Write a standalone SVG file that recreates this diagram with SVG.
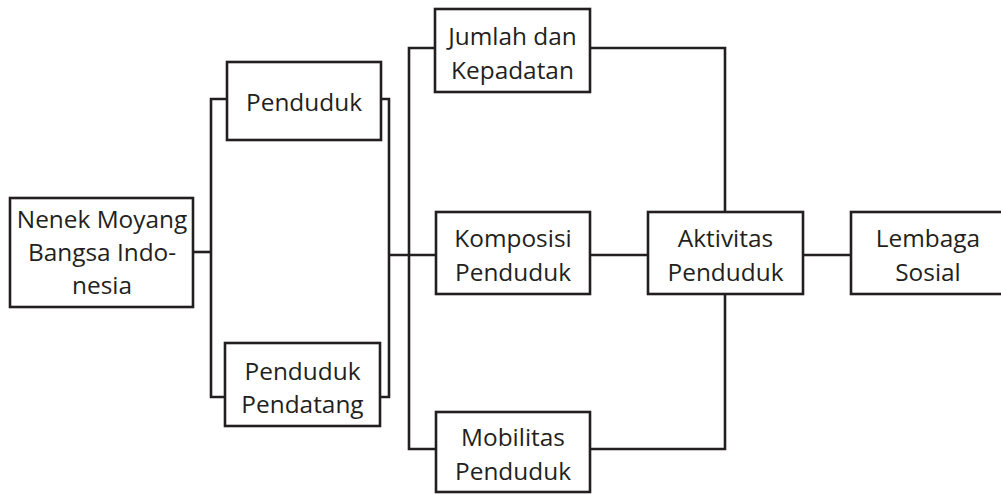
<svg xmlns="http://www.w3.org/2000/svg" width="1001" height="494" viewBox="0 0 1001 494">
<style>
.box{fill:#fff;stroke:#231f20;stroke-width:2.6}
.ln{fill:none;stroke:#231f20;stroke-width:2.6}
text{font-family:"Open Sans","Liberation Sans",sans-serif;font-size:24.4px;fill:#231f20;text-anchor:middle}
</style>
<rect width="1001" height="494" fill="#fff"/>
<g id="connectors">
<path class="ln" d="M193,252 H211"/>
<path class="ln" d="M227,99 H211 V397 H225"/>
<path class="ln" d="M381,99 H389 V397 H380"/>
<path class="ln" d="M389,255 H436"/>
<path class="ln" d="M435,48 H409 V449 H436"/>
<path class="ln" d="M590,48 H725 V212"/>
<path class="ln" d="M725,294 V449 H590"/>
<path class="ln" d="M590,255 H648"/>
<path class="ln" d="M803,255 H851"/>
</g>
<g id="nenek">
<rect class="box" x="10" y="198" width="183" height="109"/>
<text x="102" y="228">Nenek Moyang</text>
<text x="102" y="261">Bangsa Indo-</text>
<text x="102" y="294">nesia</text>
</g>
<g id="penduduk">
<rect class="box" x="227" y="62" width="154" height="78"/>
<text x="304" y="111">Penduduk</text>
</g>
<g id="pendatang">
<rect class="box" x="225" y="343" width="155" height="83"/>
<text x="302.5" y="380">Penduduk</text>
<text x="302.5" y="413">Pendatang</text>
</g>
<g id="jumlah">
<rect class="box" x="435" y="9" width="155" height="83"/>
<text x="512.5" y="45">Jumlah dan</text>
<text x="512.5" y="79">Kepadatan</text>
</g>
<g id="komposisi">
<rect class="box" x="436" y="212" width="154" height="82"/>
<text x="513" y="247">Komposisi</text>
<text x="513" y="281">Penduduk</text>
</g>
<g id="mobilitas">
<rect class="box" x="436" y="412" width="154" height="80"/>
<text x="513" y="446">Mobilitas</text>
<text x="513" y="480">Penduduk</text>
</g>
<g id="aktivitas">
<rect class="box" x="648" y="212" width="155" height="82"/>
<text x="725.5" y="247">Aktivitas</text>
<text x="725.5" y="281">Penduduk</text>
</g>
<g id="lembaga">
<rect class="box" x="851" y="212" width="156" height="82"/>
<text x="928" y="247">Lembaga</text>
<text x="928" y="281">Sosial</text>
</g>
</svg>
